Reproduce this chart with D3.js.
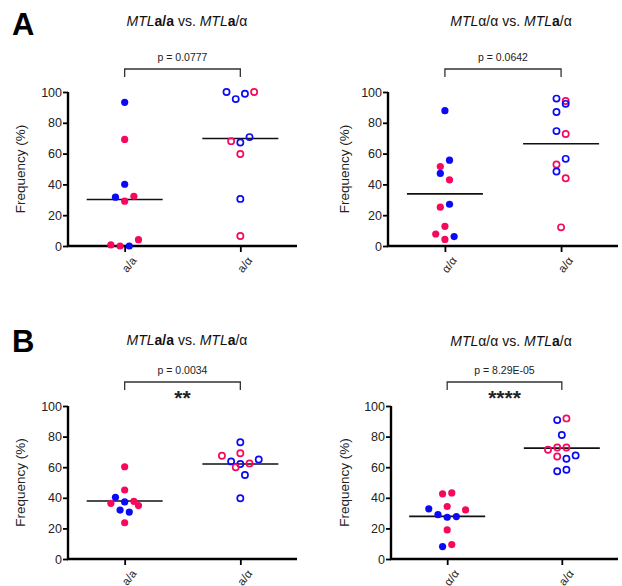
<!DOCTYPE html>
<html>
<head>
<meta charset="utf-8">
<script src="https://cdn.jsdelivr.net/npm/d3@7"></script>
<style>
  body { margin: 0; background: #fff; }
  svg { font-family: Arial, "Liberation Sans", sans-serif; }
</style>
</head>
<body>
<div class="canvas"></div>
<script>
// each point: [frequency %, strain ("b" blue / "p" pink), lane in the dot column]
const aLeftAA = [
  [93.3, "b", 0], [69.2, "p", 0], [40.1, "b", 0], [31.7, "b", -2], [32.3, "p", 2],
  [29.1, "p", 0], [0.7, "p", -3], [0, "p", -1], [0, "b", 1], [4.1, "p", 3]
];
const aLeftAAlpha = [
  [100, "b", -3], [95.4, "b", -1], [98.9, "b", 1], [100, "p", 3], [70.7, "b", 2],
  [68.1, "p", -2], [67.2, "b", 0], [59.7, "p", 0], [30.6, "b", 0], [6.5, "p", 0]
];
const aRightAlphaAlpha = [
  [87.9, "b", 0], [55.7, "b", 1], [51.6, "p", -1], [47.1, "b", -1], [43.0, "p", 1],
  [27.1, "b", 1], [25.2, "p", -1], [12.8, "p", 0], [7.8, "p", -2], [4.3, "p", 0], [6.1, "b", 2]
];
const aRightAAlpha = [
  [95.7, "b", -1], [94.2, "p", 1], [92.3, "b", 1], [87.0, "b", -1], [74.6, "b", -1],
  [72.7, "p", 1], [56.6, "b", 1], [52.9, "p", -1], [48.4, "b", -1], [44.0, "p", 1], [12.1, "p", 0]
];
const bLeftAA = [
  [60.3, "p", 0], [45.1, "p", 0], [40.3, "b", -2], [37.3, "b", 0], [36.4, "p", -3],
  [37.7, "p", 2], [34.9, "p", 3], [32.0, "b", -1], [30.7, "b", 1], [23.7, "p", 0]
];
const bLeftAAlpha = [
  [76.3, "b", 0], [69.1, "p", 0], [67.5, "p", -4], [63.8, "b", -2], [62.1, "b", 0],
  [62.5, "p", 2], [65.1, "b", 4], [59.9, "p", -1], [54.9, "b", 1], [39.7, "b", 0]
];
const bRightAlphaAlpha = [
  [42.6, "p", -1], [43.2, "p", 1], [34.3, "p", 0], [32.8, "b", -4], [32.1, "p", 4],
  [29.0, "b", -2], [27.3, "b", 0], [27.7, "b", 2], [19.0, "p", 0], [9.4, "p", 1], [8.1, "b", -1]
];
const bRightAAlpha = [
  [91.9, "p", 1], [90.8, "b", -1], [81.0, "b", 0], [71.4, "p", -3], [72.9, "p", -1],
  [72.9, "p", 1], [67.0, "p", -1], [65.5, "b", 1], [67.7, "b", 3], [57.4, "b", -1], [58.3, "b", 1]
];

const medians = {
  aLeft: [30.2, 69.8],
  aRight: [33.8, 66.4],
  bLeft: [37.9, 62.1],
  bRight: [27.9, 72.5]
};
const pValues = { aLeft: "p = 0.0777", aRight: "p = 0.0642", bLeft: "p = 0.0034", bRight: "p = 8.29E-05" };
const stars = { aLeft: "", aRight: "", bLeft: "**", bRight: "****" };
const yTicks = [0, 20, 40, 60, 80, 100];

const colors = { b: "#0a0af5", p: "#f7085f" };
const font = "Arial, 'Liberation Sans', sans-serif";

const svg = d3.select(".canvas").append("svg").attr("width", 622).attr("height", 586);

// panel frames
const panels = [
  { key: "aLeft", cats: ["a/a", "a/\u03b1"], groups: [aLeftAA, aLeftAAlpha], left: 68, right: 297, top: 92, bottom: 246, labelX: 20, titleX: 187, titleY: 26, pY: 61, brY: 69, title: "aa" },
  { key: "aRight", cats: ["\u03b1/\u03b1", "a/\u03b1"], groups: [aRightAlphaAlpha, aRightAAlpha], left: 388, right: 618, top: 92, bottom: 246, labelX: 344, titleX: 511, titleY: 26, pY: 61, brY: 69, title: "alpha" },
  { key: "bLeft", cats: ["a/a", "a/\u03b1"], groups: [bLeftAA, bLeftAAlpha], left: 68, right: 297, top: 406, bottom: 559, labelX: 20, titleX: 187, titleY: 345, pY: 374, brY: 382, title: "aa" },
  { key: "bRight", cats: ["\u03b1/\u03b1", "a/\u03b1"], groups: [bRightAlphaAlpha, bRightAAlpha], left: 391, right: 618, top: 406, bottom: 559, labelX: 344, titleX: 511, titleY: 346, pY: 374, brY: 382, title: "alpha" }
];

// panel letters
svg.append("text").attr("x", 12).attr("y", 35).attr("font-size", 31).attr("font-weight", "bold").text("A");
svg.append("text").attr("x", 12).attr("y", 352).attr("font-size", 31).attr("font-weight", "bold").text("B");

const lane = d3.scaleLinear().domain([-1, 1]).range([-4.6, 4.6]);

panels.forEach((p) => {
  const g = svg.append("g");
  const x = d3.scalePoint().domain(p.cats).range([p.left, p.right]).padding(0.49);
  const y = d3.scaleLinear().domain([0, 100]).range([p.bottom, p.top]);

  // title
  const t = g.append("text").attr("x", p.titleX).attr("y", p.titleY).attr("text-anchor", "middle")
    .attr("font-size", 14).attr("fill", "#111");
  t.append("tspan").attr("font-style", "italic").text("MTL");
  if (p.title === "aa") {
    t.append("tspan").attr("font-weight", "bold").text("a/a");
  } else {
    t.append("tspan").text("\u03b1/\u03b1");
  }
  t.append("tspan").text(" vs. ");
  t.append("tspan").attr("font-style", "italic").text("MTL");
  t.append("tspan").attr("font-weight", "bold").text("a");
  t.append("tspan").text("/\u03b1");

  // significance bracket
  const x0 = x(p.cats[0]), x1 = x(p.cats[1]);
  g.append("path")
    .attr("d", `M${x0},${p.brY + 8}V${p.brY}H${x1}V${p.brY + 8}`)
    .attr("fill", "none").attr("stroke", "#333").attr("stroke-width", 1.3);
  g.append("text").attr("x", (x0 + x1) / 2).attr("y", p.pY).attr("text-anchor", "middle")
    .attr("font-size", 10.5).attr("fill", "#222").text(pValues[p.key]);
  if (stars[p.key]) {
    g.append("text").attr("x", (x0 + x1) / 2).attr("y", p.brY + 23).attr("text-anchor", "middle")
      .attr("font-size", 21).attr("font-weight", "bold").attr("fill", "#222").text(stars[p.key]);
  }

  // y axis
  const yAxis = d3.axisLeft(y).tickValues(yTicks).tickSize(5).tickSizeOuter(0).tickPadding(1);
  const ya = g.append("g").attr("transform", `translate(${p.left},0)`).call(yAxis);
  ya.select(".domain").attr("stroke-width", 2.4).attr("d", `M0,${p.top}V${p.bottom}`);
  ya.selectAll(".tick line").attr("stroke-width", 1.8);
  ya.selectAll(".tick text").attr("font-size", 12.5).attr("fill", "#222").style("font-family", font);

  // x axis
  const xAxis = d3.axisBottom(x).tickSize(6).tickSizeOuter(0).tickPadding(4);
  const xa = g.append("g").attr("transform", `translate(0,${p.bottom})`).call(xAxis);
  xa.select(".domain").attr("stroke-width", 2.4).attr("d", `M${p.left - 1},0H${p.right}`);
  xa.selectAll(".tick line").attr("stroke-width", 1.8);
  xa.selectAll(".tick text")
    .attr("font-size", 11.5).attr("fill", "#222")
    .style("font-family", font)
    .attr("text-anchor", "end").attr("dy", "0.35em")
    .attr("transform", "translate(1,6) rotate(-52)");

  // y label
  g.append("text")
    .attr("transform", `translate(${p.labelX},${(p.top + p.bottom) / 2}) rotate(-90)`)
    .attr("text-anchor", "middle").attr("dy", "0.35em").attr("font-size", 13.5).attr("fill", "#222")
    .text("Frequency (%)");

  // median lines
  medians[p.key].forEach((m, i) => {
    const cx = x(p.cats[i]);
    g.append("line").attr("x1", cx - 38).attr("x2", cx + 38).attr("y1", y(m)).attr("y2", y(m))
      .attr("stroke", "#111").attr("stroke-width", 1.7);
  });

  // points: first group filled, second open
  p.groups.forEach((data, i) => {
    const cx = x(p.cats[i]);
    g.selectAll(null).data(data).enter().append("circle")
      .attr("cx", (d) => cx + lane(d[2]))
      .attr("cy", (d) => y(d[0]))
      .attr("r", i === 0 ? 3.6 : 3.1)
      .attr("fill", (d) => (i === 0 ? colors[d[1]] : "none"))
      .attr("stroke", (d) => (i === 0 ? "none" : colors[d[1]]))
      .attr("stroke-width", 1.7);
  });
});
</script>
</body>
</html>
